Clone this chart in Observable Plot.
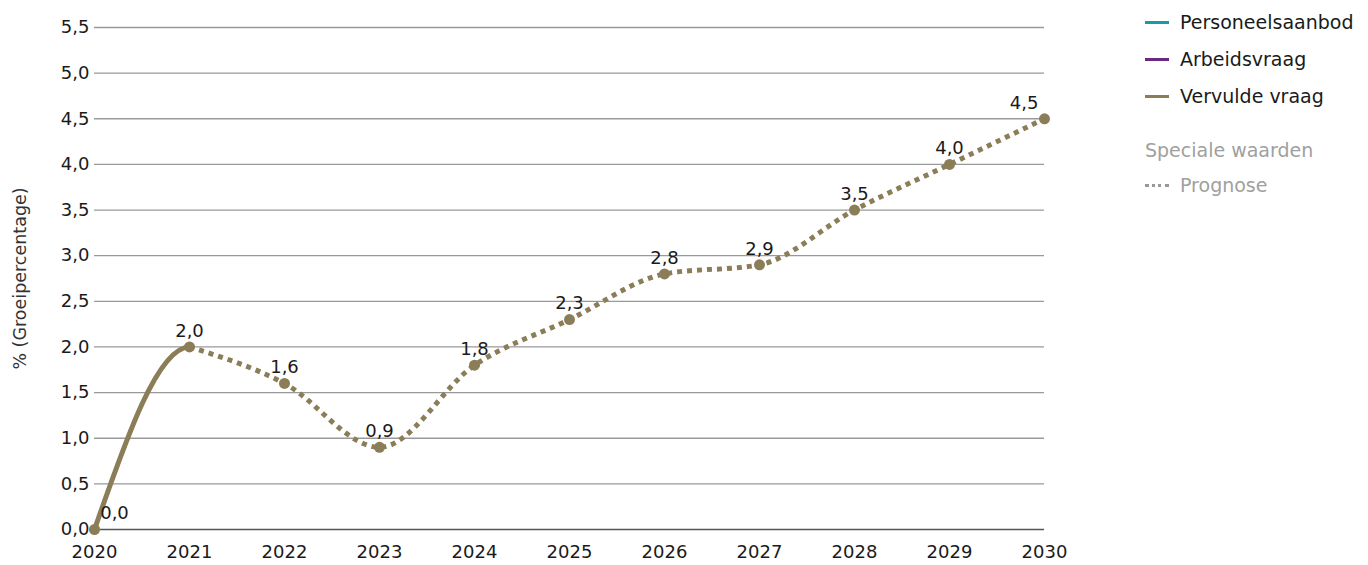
<!DOCTYPE html>
<html>
<head>
<meta charset="utf-8">
<script src="https://cdn.jsdelivr.net/npm/d3@7"></script>
<script src="https://cdn.jsdelivr.net/npm/@observablehq/plot@0.6"></script>
<style>
  html, body { margin: 0; padding: 0; background: #fff; }
  body { width: 1368px; height: 565px; overflow: hidden; font-family: "DejaVu Sans", sans-serif; }
  #wrap { display: flex; flex-direction: row; }
  #legend { padding-top: 3.5px; padding-left: 15px; font-size: 19px; color: #1a1a1a; white-space: nowrap; }
  .li { display: flex; align-items: center; height: 37px; }
  .sw { width: 24px; height: 0; border-top: 3px solid; margin-right: 11px; }
  .gray { color: #a0a0a0; height: 35px; }
</style>
</head>
<body>
<div id="wrap"><div id="chart"></div><div id="legend"></div></div>
<script>
const years = [2020, 2021, 2022, 2023, 2024, 2025, 2026, 2027, 2028, 2029, 2030];
const vervuldeVraag = [0.0, 2.0, 1.6, 0.9, 1.8, 2.3, 2.8, 2.9, 3.5, 4.0, 4.5];
const realisatieTot = 2021;
const yTicks = [0, 0.5, 1, 1.5, 2, 2.5, 3, 3.5, 4, 4.5, 5, 5.5];
const seriesNames = ["Personeelsaanbod", "Arbeidsvraag", "Vervulde vraag"];
const seriesColors = ["#1a9aa8", "#6a2a7e", "#8b7d57"];

const data = years.map((y, i) => ({year: y, value: vervuldeVraag[i]}));
const nl = d3.formatLocale({decimal: ",", thousands: ".", grouping: [3], currency: ["€", ""]});
const fmt = nl.format(".1f");
const col = seriesColors[2];
const firstYear = years[0], lastYear = years[years.length - 1];

// clip solid part to realised period, using the chart's own x scale
function clipTo(x0, x1) {
  return function (index, scales, values, dims, context, next) {
    const g = next(index, scales, values, dims, context);
    const id = "clip" + Math.random().toString(36).slice(2);
    const svgNS = "http://www.w3.org/2000/svg";
    const cp = document.createElementNS(svgNS, "clipPath");
    cp.setAttribute("id", id);
    const r = document.createElementNS(svgNS, "rect");
    r.setAttribute("x", scales.x(x0) - 10);
    r.setAttribute("width", scales.x(x1) - scales.x(x0) + 10);
    r.setAttribute("y", 0);
    r.setAttribute("height", dims.height);
    cp.appendChild(r);
    g.insertBefore(cp, g.firstChild);
    g.setAttribute("clip-path", `url(#${id})`);
    return g;
  };
}

const chart = Plot.plot({
  width: 1130,
  height: 565,
  marginLeft: 94,
  marginRight: 86,
  marginTop: 27,
  marginBottom: 36,
  style: {fontFamily: "'DejaVu Sans', sans-serif", fontSize: "18px", color: "#1a1a1a", background: "#fff"},
  x: {domain: [firstYear, lastYear], label: null},
  y: {domain: [0, 5.5], label: null},
  marks: [
    Plot.ruleY(yTicks.filter(d => d > 0), {stroke: "#999", strokeWidth: 1.3, strokeOpacity: 1}),
    Plot.ruleY([0], {stroke: "#555", strokeWidth: 1.5}),
    Plot.axisX({ticks: years, tickFormat: d => String(d), tickSize: 0, tickPadding: 16, fontSize: 18, label: null}),
    Plot.axisY({ticks: yTicks, tickFormat: fmt, tickSize: 0, tickPadding: 5, fontSize: 18, label: null}),
    Plot.line(data.filter(d => d.year >= realisatieTot), {
      x: "year", y: "value", curve: "monotone-x", stroke: col, strokeWidth: 5,
      strokeDasharray: "5 5", strokeLinecap: "butt"
    }),
    Plot.line(data.filter(d => d.year <= realisatieTot + 1), {
      x: "year", y: "value", curve: "monotone-x", stroke: col, strokeWidth: 5,
      render: clipTo(firstYear, realisatieTot)
    }),
    Plot.dot(data, {x: "year", y: "value", r: 5.5, fill: col, stroke: "none"}),
    Plot.text(data.filter(d => d.year > firstYear && d.year < lastYear), {
      x: "year", y: "value", text: d => fmt(d.value), dy: -16, fontSize: 18, fill: "#1a1a1a"
    }),
    Plot.text(data.filter(d => d.year === firstYear), {
      x: "year", y: "value", text: d => fmt(d.value), dx: 20, dy: -16, fontSize: 18, fill: "#1a1a1a"
    }),
    Plot.text(data.filter(d => d.year === lastYear), {
      x: "year", y: "value", text: d => fmt(d.value), textAnchor: "end", dx: -6, dy: -16, fontSize: 18, fill: "#1a1a1a"
    }),
    Plot.text(["% (Groeipercentage)"], {
      frameAnchor: "left", dx: -74, rotate: -90, textAnchor: "middle", fontSize: 17.5, fill: "#333", text: d => d
    })
  ]
});
document.getElementById("chart").appendChild(chart);

const legend = document.getElementById("legend");
seriesNames.forEach((n, i) => {
  const d = document.createElement("div");
  d.className = "li";
  d.innerHTML = `<span class="sw" style="border-color:${seriesColors[i]}"></span><span>${n}</span>`;
  legend.appendChild(d);
});
const sp = document.createElement("div");
sp.className = "li gray";
sp.style.marginTop = "18px";
sp.textContent = "Speciale waarden";
legend.appendChild(sp);
const pg = document.createElement("div");
pg.className = "li gray";
pg.innerHTML = `<span class="sw" style="border-top:3px dotted #999;width:24px;margin-right:11px"></span><span>Prognose</span>`;
legend.appendChild(pg);
</script>
</body>
</html>
